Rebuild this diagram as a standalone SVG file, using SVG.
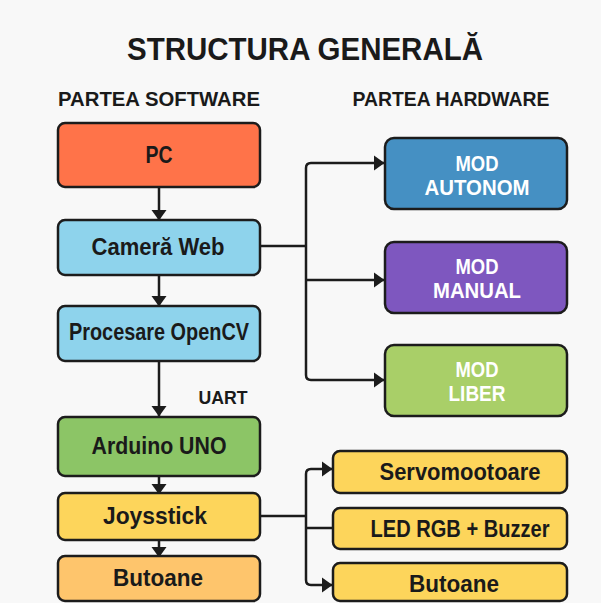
<svg xmlns="http://www.w3.org/2000/svg" width="601" height="603" viewBox="0 0 601 603">
<defs>
<style>
.bg{fill:#f8f8f8}
.box{stroke:#1c1c1c;stroke-width:2.5}
.t{font-family:"Liberation Sans",Arial,sans-serif;font-weight:bold;fill:#1a1a1a;text-anchor:middle}
.w{fill:#ffffff}
.lbl{font-size:23px}
.wl{font-size:22px}
.hd{font-size:21px}
.conn{fill:none;stroke:#1c1c1c;stroke-width:2.5}
</style>
<marker id="ah" markerUnits="userSpaceOnUse" markerWidth="11" markerHeight="16" viewBox="0 0 11 16" refX="10" refY="8" orient="auto">
<path d="M0,0.5 L10.5,8 L0,15.5 Z" fill="#1c1c1c"/>
</marker>
</defs>
<rect class="bg" x="0" y="0" width="601" height="603"/>
<text class="t" x="305" y="60" font-size="31" textLength="356" lengthAdjust="spacingAndGlyphs">STRUCTURA GENERALĂ</text>
<text class="t hd" x="159" y="106" textLength="202" lengthAdjust="spacingAndGlyphs">PARTEA SOFTWARE</text>
<text class="t hd" x="451" y="106" textLength="197" lengthAdjust="spacingAndGlyphs">PARTEA HARDWARE</text>
<text class="t" x="223" y="404" font-size="19" textLength="49" lengthAdjust="spacingAndGlyphs">UART</text>

<g id="connectors">
<path class="conn" marker-end="url(#ah)" d="M159,187 V220"/>
<path class="conn" marker-end="url(#ah)" d="M159,275 V306"/>
<path class="conn" marker-end="url(#ah)" d="M159,361 V416"/>
<path class="conn" marker-end="url(#ah)" d="M159,476 V494"/>
<path class="conn" marker-end="url(#ah)" d="M159,540 V557"/>
<path class="conn" d="M260,246 H306"/>
<path class="conn" marker-end="url(#ah)" d="M306,246 V168 Q306,163 311,163 H384"/>
<path class="conn" marker-end="url(#ah)" d="M306,246 V375 Q306,380 311,380 H384"/>
<path class="conn" marker-end="url(#ah)" d="M306,280 H384"/>
<path class="conn" d="M260,516 H306"/>
<path class="conn" marker-end="url(#ah)" d="M306,516 V474 Q306,469 311,469 H332"/>
<path class="conn" marker-end="url(#ah)" d="M306,516 V580 Q306,585 311,585 H332"/>
<path class="conn" d="M306,528 H333"/>
</g>

<g id="pc"><rect class="box" x="58" y="123" width="202" height="64" rx="7" fill="#ff7349"/><text class="t lbl" x="159" y="163" textLength="27" lengthAdjust="spacingAndGlyphs">PC</text></g>
<g id="camera"><rect class="box" x="58" y="220" width="202" height="55" rx="7" fill="#8ed3ec"/><text class="t lbl" x="158" y="255" textLength="133" lengthAdjust="spacingAndGlyphs">Cameră Web</text></g>
<g id="opencv"><rect class="box" x="58" y="306" width="202" height="55" rx="7" fill="#8ed3ec"/><text class="t lbl" x="159" y="340" textLength="180" lengthAdjust="spacingAndGlyphs">Procesare OpenCV</text></g>
<g id="arduino"><rect class="box" x="58" y="417" width="202" height="59" rx="7" fill="#8cc566"/><text class="t lbl" x="159" y="454" textLength="135" lengthAdjust="spacingAndGlyphs">Arduino UNO</text></g>
<g id="joystick"><rect class="box" x="58" y="493" width="202" height="47" rx="7" fill="#fdd55b"/><text class="t lbl" x="155" y="524" textLength="104" lengthAdjust="spacingAndGlyphs">Joysstick</text></g>
<g id="butoane-sw"><rect class="box" x="58" y="556" width="202" height="45" rx="7" fill="#fec56c"/><text class="t lbl" x="158" y="586" textLength="90" lengthAdjust="spacingAndGlyphs">Butoane</text></g>

<g id="mod-autonom"><rect class="box" x="385" y="138" width="182" height="71" rx="9" fill="#4590c3"/><text class="t w wl" x="477" y="171" textLength="43" lengthAdjust="spacingAndGlyphs">MOD</text><text class="t w wl" x="477" y="195" textLength="105" lengthAdjust="spacingAndGlyphs">AUTONOM</text></g>
<g id="mod-manual"><rect class="box" x="385" y="242" width="182" height="71" rx="9" fill="#7e57bf"/><text class="t w wl" x="477" y="274" textLength="43" lengthAdjust="spacingAndGlyphs">MOD</text><text class="t w wl" x="477" y="298" textLength="88" lengthAdjust="spacingAndGlyphs">MANUAL</text></g>
<g id="mod-liber"><rect class="box" x="385" y="345" width="182" height="71" rx="9" fill="#a9cf68"/><text class="t w wl" x="477" y="377" textLength="43" lengthAdjust="spacingAndGlyphs">MOD</text><text class="t w wl" x="477" y="401" textLength="57" lengthAdjust="spacingAndGlyphs">LIBER</text></g>

<g id="servo"><rect class="box" x="333" y="451" width="234" height="42" rx="7" fill="#fdd55b"/><text class="t lbl" x="460" y="480" textLength="161" lengthAdjust="spacingAndGlyphs">Servomootoare</text></g>
<g id="led"><rect class="box" x="333" y="508" width="234" height="41" rx="7" fill="#fdd55b"/><text class="t lbl" x="460" y="537" textLength="179" lengthAdjust="spacingAndGlyphs">LED RGB + Buzzer</text></g>
<g id="butoane-hw"><rect class="box" x="333" y="563" width="234" height="38" rx="7" fill="#fdd55b"/><text class="t lbl" x="454" y="592" textLength="90" lengthAdjust="spacingAndGlyphs">Butoane</text></g>
</svg>
